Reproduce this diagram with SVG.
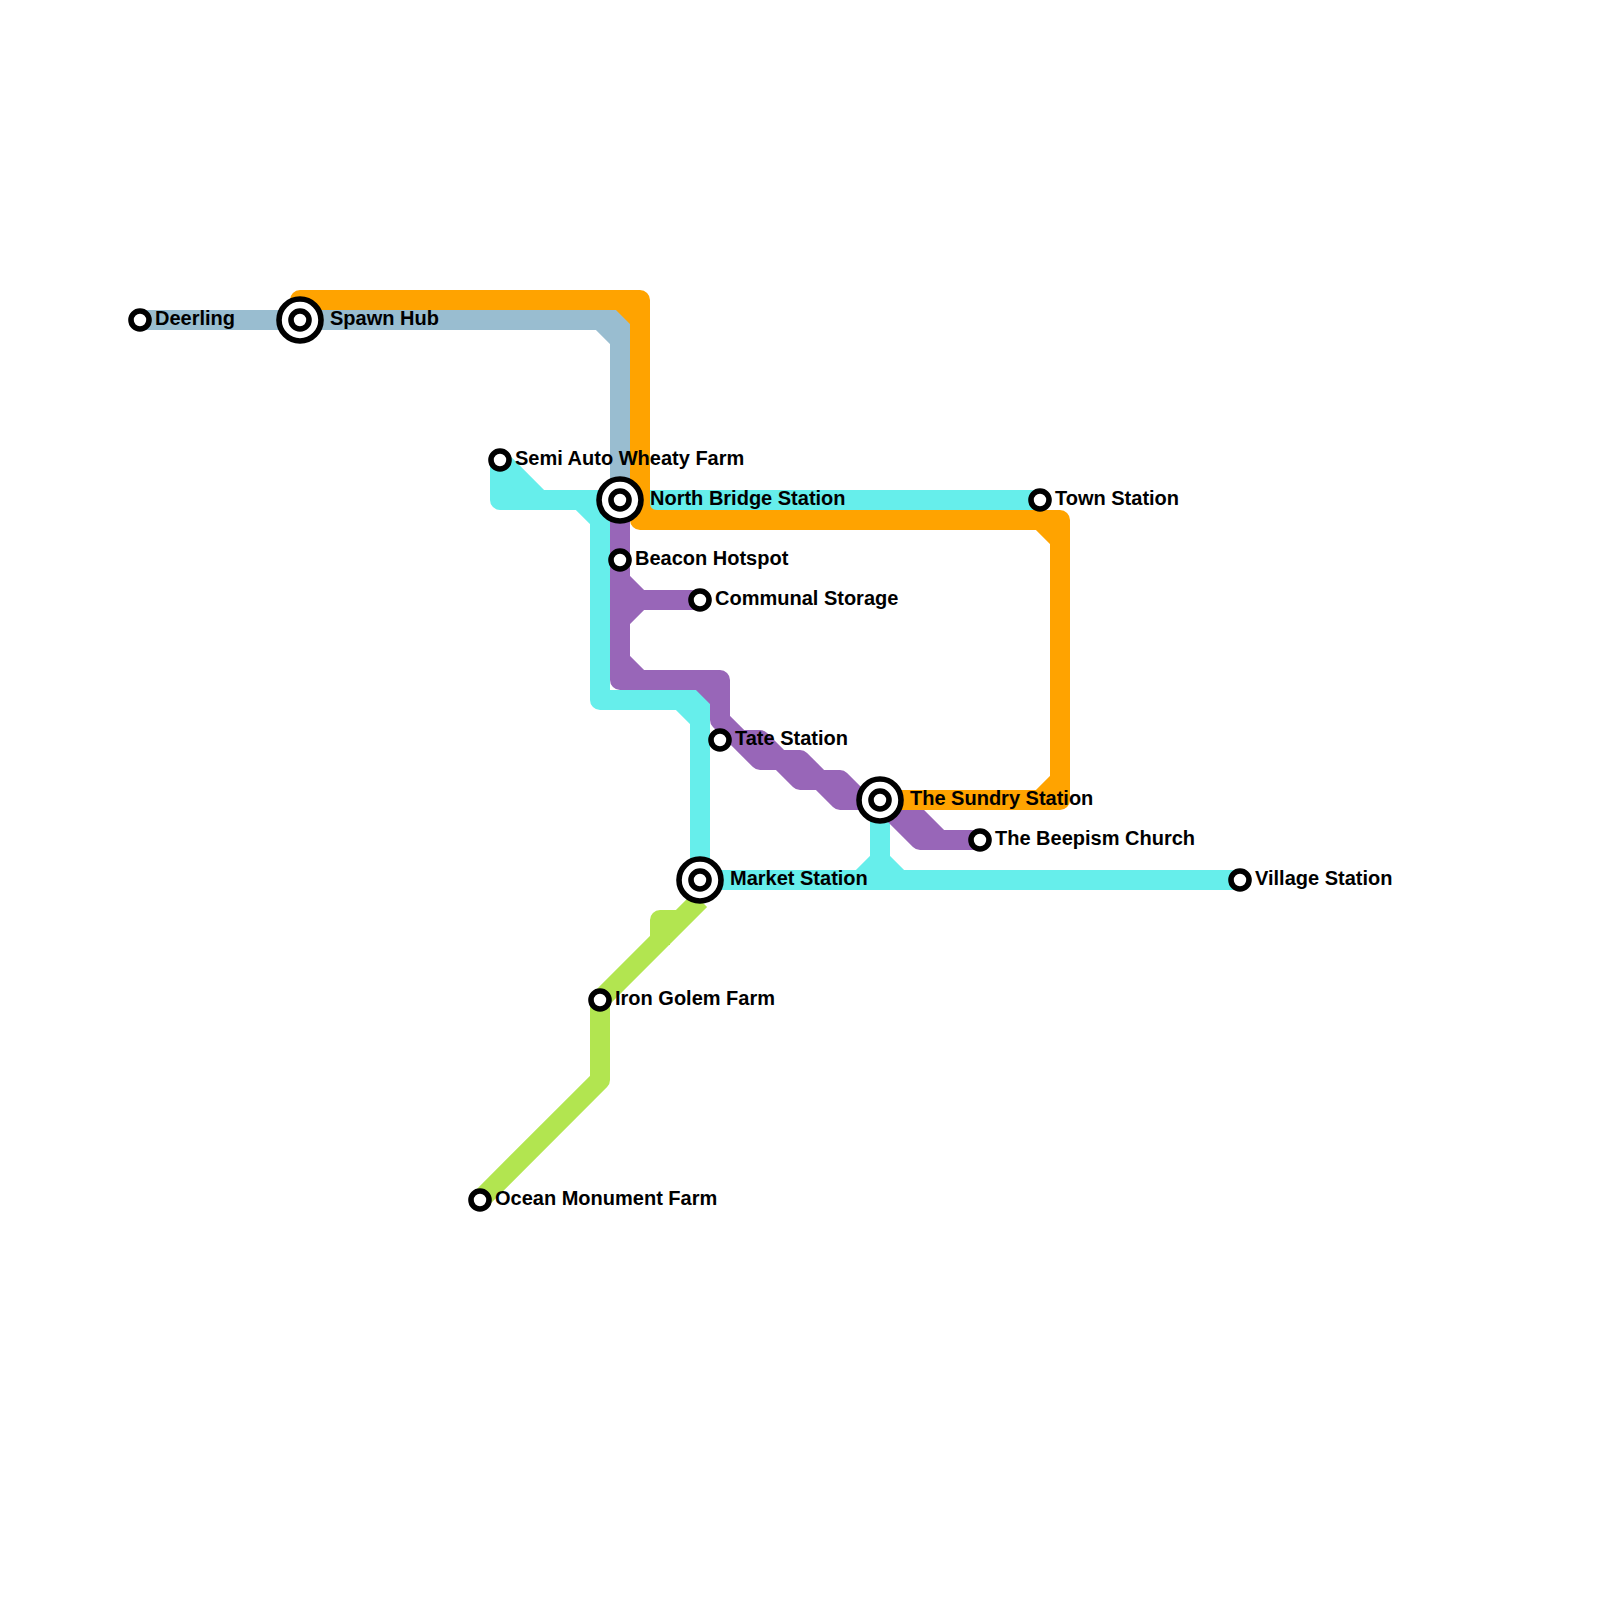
<svg xmlns="http://www.w3.org/2000/svg" width="1600" height="1600" viewBox="0 0 1600 1600">
<style>
.l{fill:none;stroke-width:20;stroke-linejoin:round;stroke-linecap:butt}
.green{stroke:#b2e550}.blue{stroke:#99bdd0}.cyan{stroke:#66eeeb}.purple{stroke:#9866b8}.orange{stroke:#ffa300}
.s{fill:#fff;stroke:#000;stroke-width:5.6}
text{font-family:"Liberation Sans",Arial,sans-serif;font-weight:700;font-size:20px;fill:#000}
</style>
<rect width="1600" height="1600" fill="#fff"/>
<g id="connectors">
<path class="l green" d="M480 1200L600 1080V1000L700 900M660 945V920H680"/>
<path class="l blue" d="M140 320H620V500M600 320L620 340"/>
<path d="M500 460L540 500H500Z" fill="#66eeeb"/>
<path class="l cyan" d="M500 460V500H620M500 460L540 500M620 500H1040M600 500V700H700V880M580 500L600 520M680 700L700 720M700 880H1240M880 800V880M860 880L880 860L900 880"/>
<path class="l purple" d="M620 500V680H720V720L740 740H760L780 760H800L820 780H840L860 800H880M720 720L760 760H780L800 780H820L840 800H880M620 580L640 600H700M620 620L640 600M620 660L640 680M700 680L720 700M880 800L920 840H980M880 800H900L940 840H980"/>
<path class="l orange" d="M300 320V300H640V520H1060V800H880M620 300L640 320M1040 520L1060 540M1040 800L1060 780"/>
<path d="M650 503Q650 510 657 510H650Z" fill="#ffa300"/>
</g>
<g id="deerling"><circle class="s" cx="140" cy="320" r="9"/><text x="155" y="325">Deerling</text></g>
<g id="spawn-hub"><circle class="s" cx="300" cy="320" r="21"/><circle class="s" cx="300" cy="320" r="9"/><text x="330" y="325">Spawn Hub</text></g>
<g id="semi-auto-wheaty-farm"><circle class="s" cx="500" cy="460" r="9"/><text x="515" y="465">Semi Auto Wheaty Farm</text></g>
<g id="north-bridge-station"><circle class="s" cx="620" cy="500" r="21"/><circle class="s" cx="620" cy="500" r="9"/><text x="650" y="505">North Bridge Station</text></g>
<g id="town-station"><circle class="s" cx="1040" cy="500" r="9"/><text x="1055" y="505">Town Station</text></g>
<g id="beacon-hotspot"><circle class="s" cx="620" cy="560" r="9"/><text x="635" y="565">Beacon Hotspot</text></g>
<g id="communal-storage"><circle class="s" cx="700" cy="600" r="9"/><text x="715" y="605">Communal Storage</text></g>
<g id="tate-station"><circle class="s" cx="720" cy="740" r="9"/><text x="735" y="745">Tate Station</text></g>
<g id="the-sundry-station"><circle class="s" cx="880" cy="800" r="21"/><circle class="s" cx="880" cy="800" r="9"/><text x="910" y="805">The Sundry Station</text></g>
<g id="the-beepism-church"><circle class="s" cx="980" cy="840" r="9"/><text x="995" y="845">The Beepism Church</text></g>
<g id="market-station"><circle class="s" cx="700" cy="880" r="21"/><circle class="s" cx="700" cy="880" r="9"/><text x="730" y="885">Market Station</text></g>
<g id="village-station"><circle class="s" cx="1240" cy="880" r="9"/><text x="1255" y="885">Village Station</text></g>
<g id="iron-golem-farm"><circle class="s" cx="600" cy="1000" r="9"/><text x="615" y="1005">Iron Golem Farm</text></g>
<g id="ocean-monument-farm"><circle class="s" cx="480" cy="1200" r="9"/><text x="495" y="1205">Ocean Monument Farm</text></g>
</svg>
